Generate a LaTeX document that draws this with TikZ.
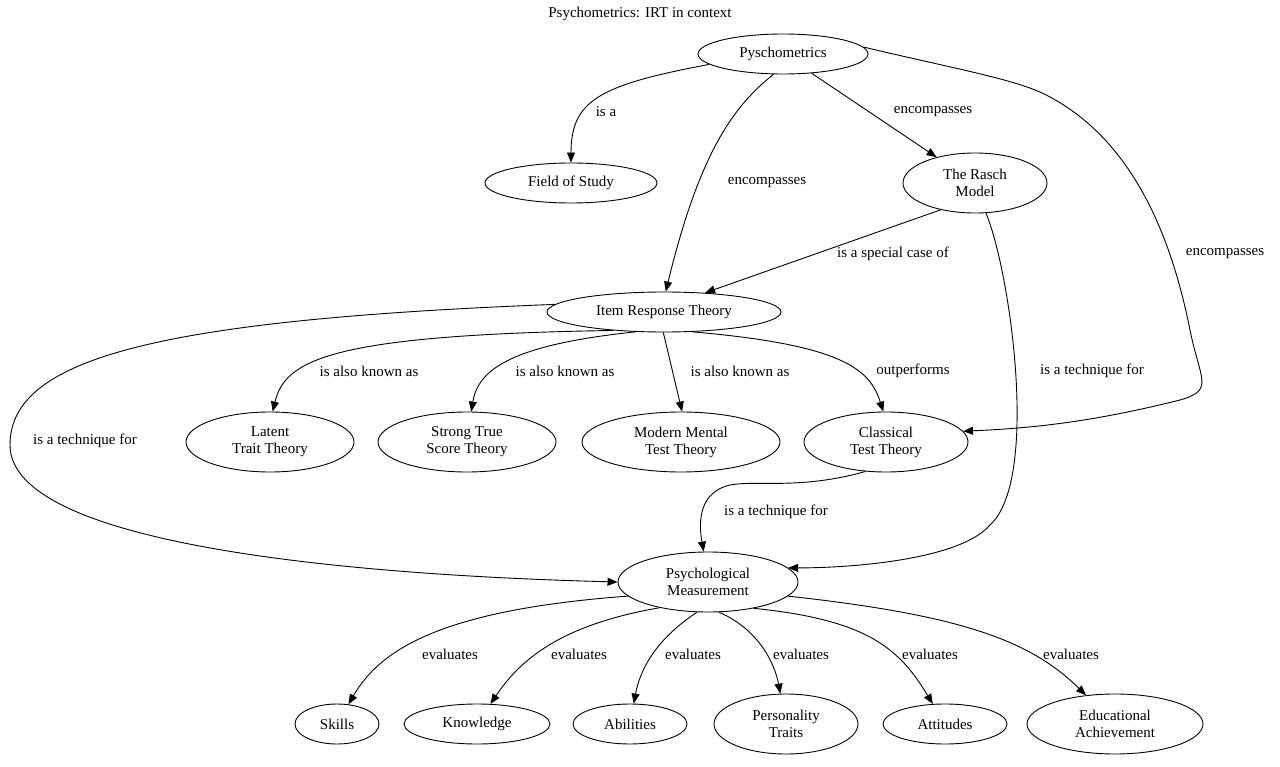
\documentclass[tikz,border=0pt]{standalone}
\usepackage{fontspec}
\setmainfont{Liberation Serif}
\usetikzlibrary{arrows.meta,shapes.geometric}
\begin{document}
\begin{tikzpicture}[x=1pt,y=-1pt,line width=0.9pt,
  n/.style={draw,ellipse,minimum width=2*#1pt,inner sep=0pt,align=center,font=\rmfamily\fontsize{15}{17}\selectfont},
  n/.default=80,
  e/.style={-{Triangle[length=10pt,width=8pt]}},
  l/.style={font=\rmfamily\fontsize{15}{17}\selectfont}]
\useasboundingbox (0,0) rectangle (1280,767);
\node[l] (title) at (640,14) {Psychometrics: IRT in context};
\node[n=85,minimum height=40pt] (P) at (783,54) {Pyschometrics};
\node[n=86,minimum height=40pt] (F) at (571,183) {Field of Study};
\node[n=72,minimum height=60pt] (R) at (975,183) {The Rasch\\Model};
\node[n=117,minimum height=40pt] (I) at (664,312) {Item Response Theory};
\node[n=84,minimum height=60pt] (L) at (270,442) {Latent\\Trait Theory};
\node[n=89,minimum height=60pt] (S) at (467,442) {Strong True\\Score Theory};
\node[n=99,minimum height=60pt] (M) at (681,442) {Modern Mental\\Test Theory};
\node[n=82,minimum height=60pt] (C) at (886,442) {Classical\\Test Theory};
\node[n=90,minimum height=60pt] (Q) at (708,582) {Psychological\\Measurement};
\node[n=42,minimum height=40pt] (k1) at (337,724) {Skills};
\node[n=73,minimum height=40pt] (k2) at (477,724) {Knowledge};
\node[n=57,minimum height=40pt] (k3) at (630,724) {Abilities};
\node[n=72,minimum height=60pt] (k4) at (786,724) {Personality\\Traits};
\node[n=62,minimum height=40pt] (k5) at (945,724) {Attitudes};
\node[n=88,minimum height=60pt] (k6) at (1115,724) {Educational\\Achievement};
\coordinate (c1) at (1050,97);
\coordinate (c3) at (10,445);
\coordinate (c4) at (990,525);
\draw[e] (P.188) .. controls (600,85) and (571,100) .. (F);
\node[l] at (606,112) {is a};
\draw[e] (P.245) .. controls (735,105) and (700,150) .. (I.85);
\node[l] at (767,183) {encompasses};
\draw[e] (P) -- (R);
\node[l] at (933,112) {encompasses};
\draw (P.5) .. controls (960,70) and (1020,80) .. (c1);
\draw[e] (c1) .. controls (1130,140) and (1170,230) .. (1190,330) .. controls (1200,380) and (1215,390) .. (1180,400) .. controls (1100,420) and (1040,428) .. (C.8);
\node[l] at (1225,254) {encompasses};
\draw[e] (R.218) -- (I.25);
\node[l] at (893,254) {is a special case of};
\draw (R.290) .. controls (1010,270) and (1040,480) .. (c4);
\draw[e] (c4) .. controls (960,560) and (850,568) .. (Q.10);
\node[l] at (1092,371) {is a technique for};
\draw[e] (I.200) .. controls (330,335) and (285,360) .. (L.85);
\node[l] at (369,371) {is also known as};
\draw[e] (I.215) .. controls (510,345) and (478,370) .. (S.82);
\node[l] at (565,371) {is also known as};
\draw[e] (I.268) -- (M.88);
\node[l] at (740,371) {is also known as};
\draw[e] (I.325) .. controls (845,345) and (870,370) .. (C.95);
\node[l] at (913,371) {outperforms};
\draw (I.176) .. controls (150,320) and (10,360) .. (c3);
\draw[e] (c3) .. controls (10,545) and (350,575) .. (Q.180);
\node[l] at (85,441) {is a technique for};
\draw[e] (C.235) .. controls (800,490) and (755,480) .. (730,485) .. controls (700,492) and (698,520) .. (Q.98);
\node[l] at (776,512) {is a technique for};
\draw[e] (Q.190) .. controls (440,610) and (380,650) .. (k1);
\node[l] at (450,654) {evaluates};
\draw[e] (Q.208) .. controls (560,625) and (520,660) .. (k2);
\node[l] at (579,654) {evaluates};
\draw[e] (Q.250) .. controls (655,640) and (640,670) .. (k3);
\node[l] at (693,654) {evaluates};
\draw[e] (Q.290) .. controls (760,630) and (775,665) .. (k4);
\node[l] at (801,654) {evaluates};
\draw[e] (Q.330) .. controls (870,620) and (900,650) .. (k5);
\node[l] at (930,654) {evaluates};
\draw[e] (Q.350) .. controls (960,615) and (1030,640) .. (k6);
\node[l] at (1071,654) {evaluates};
\end{tikzpicture}
\end{document}
